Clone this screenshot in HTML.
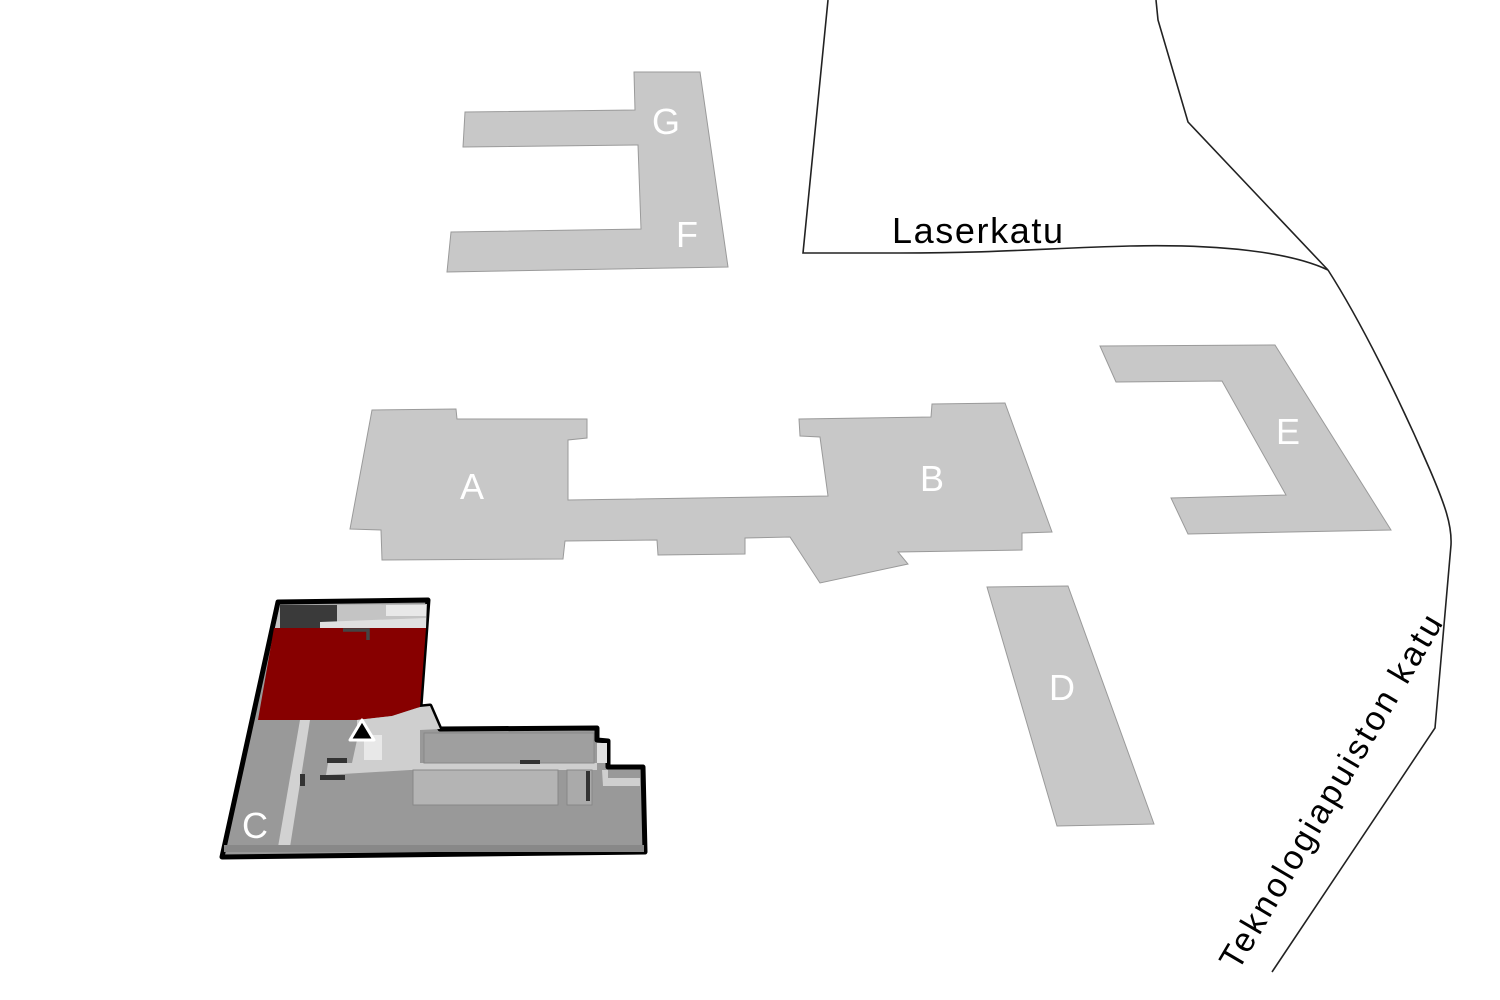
<!DOCTYPE html>
<html><head><meta charset="utf-8"><style>html,body{margin:0;padding:0;background:#fff}svg{display:block}</style></head><body>
<svg width="1500" height="1000" viewBox="0 0 1500 1000" xmlns="http://www.w3.org/2000/svg" font-family="Liberation Sans, DejaVu Sans, sans-serif">
<rect width="1500" height="1000" fill="#fff"/>
<g fill="none" stroke="#222" stroke-width="1.6">
<path d="M828,0 L803,253 L900,253 C1000,253 1050,248 1130,246 C1220,244 1290,252 1328,270"/>
<path d="M1156,0 L1158,20 L1188,122 L1328,270"/>
<path d="M1328,270 C1360,320 1400,400 1430,470 C1445,505 1452,525 1451,545 L1435,728 L1272,972"/>
</g>
<text x="892" y="243" font-size="36" fill="#000" textLength="171">Laserkatu</text>
<text transform="translate(1238,972) rotate(-59.5)" font-size="34" fill="#000" textLength="405">Teknologiapuiston katu</text>
<g fill="#c8c8c8" stroke="#9a9a9a" stroke-width="1">
<polygon points="465,112 635,110 634,72 700,72 728,267 447,272 451,232 641,229 638,145 463,147"/>
<polygon points="372,410 456,409 457,419 587,419 587,438 568,440 568,500 828,496 820,437 800,436 799,419 931,417 932,404 1005,403 1052,532 1022,533 1022,550 898,552 908,564 820,583 790,537 745,538 745,554 658,555 657,540 565,541 563,559 382,560 381,530 350,529"/>
<polygon points="1100,346 1275,345 1391,530 1188,534 1171,498 1286,495 1222,381 1116,382"/>
<polygon points="987,587 1068,586 1154,824 1057,826"/>
</g>
<g fill="#fff" font-size="36">
<text x="652" y="134">G</text>
<text x="676" y="247">F</text>
<text x="460" y="499">A</text>
<text x="920" y="491">B</text>
<text x="1276" y="444">E</text>
<text x="1049" y="700">D</text>
</g>
<polygon points="278,602 428,600 420,707 430,706 440,729 597,728 597,740 608,741 608,767 643,767 645,852 222,857" fill="#999" stroke="#000" stroke-width="5" stroke-linejoin="round"/>
<polygon points="258,720 357,720 392,716 420,707 426,628 274,628" fill="#870000"/>
<polygon points="280,605 427,604 426,628 275,628" fill="#c4c4c4"/>
<rect x="280" y="605" width="57" height="23" fill="#3a3a3a"/>
<rect x="386" y="605" width="40" height="11" fill="#e8e8e8"/>
<polygon points="320,622 426,618 426,628 320,628" fill="#e0e0e0"/>
<path d="M343,630 L368,630 L368,640" stroke="#444" stroke-width="3.5" fill="none"/>
<polygon points="300,720 310,720 290,847 278,847" fill="#d2d2d2"/>
<polygon points="357,720 392,716 420,707 430,706 440,729 420,730 420,763 597,763 597,770 608,770 608,778 640,778 640,786 603,786 602,770 410,770 326,775 328,763 352,763 357,740" fill="#cfcfcf"/>
<rect x="424" y="733" width="170" height="30" fill="#9f9f9f" stroke="#888"/>
<rect x="413" y="770" width="145" height="35" fill="#b4b4b4" stroke="#888"/>
<rect x="567" y="770" width="25" height="35" fill="#aaa" stroke="#888"/>
<rect x="586" y="771" width="4" height="30" fill="#333"/>
<rect x="597" y="743" width="10" height="20" fill="#e0e0e0"/>
<rect x="364" y="735" width="18" height="25" fill="#e8e8e8"/>
<rect x="327" y="758" width="20" height="5" fill="#333"/>
<rect x="320" y="775" width="25" height="5" fill="#333"/>
<rect x="300" y="774" width="5" height="12" fill="#333"/>
<rect x="520" y="760" width="20" height="4" fill="#333"/>
<polygon points="350,740 362,720 374,740" fill="#000" stroke="#fff" stroke-width="3" stroke-linejoin="round"/>
<rect x="224" y="845" width="420" height="7" fill="#888"/>
<text x="242" y="838" font-size="36" fill="#fff">C</text>
</svg>
</body></html>
